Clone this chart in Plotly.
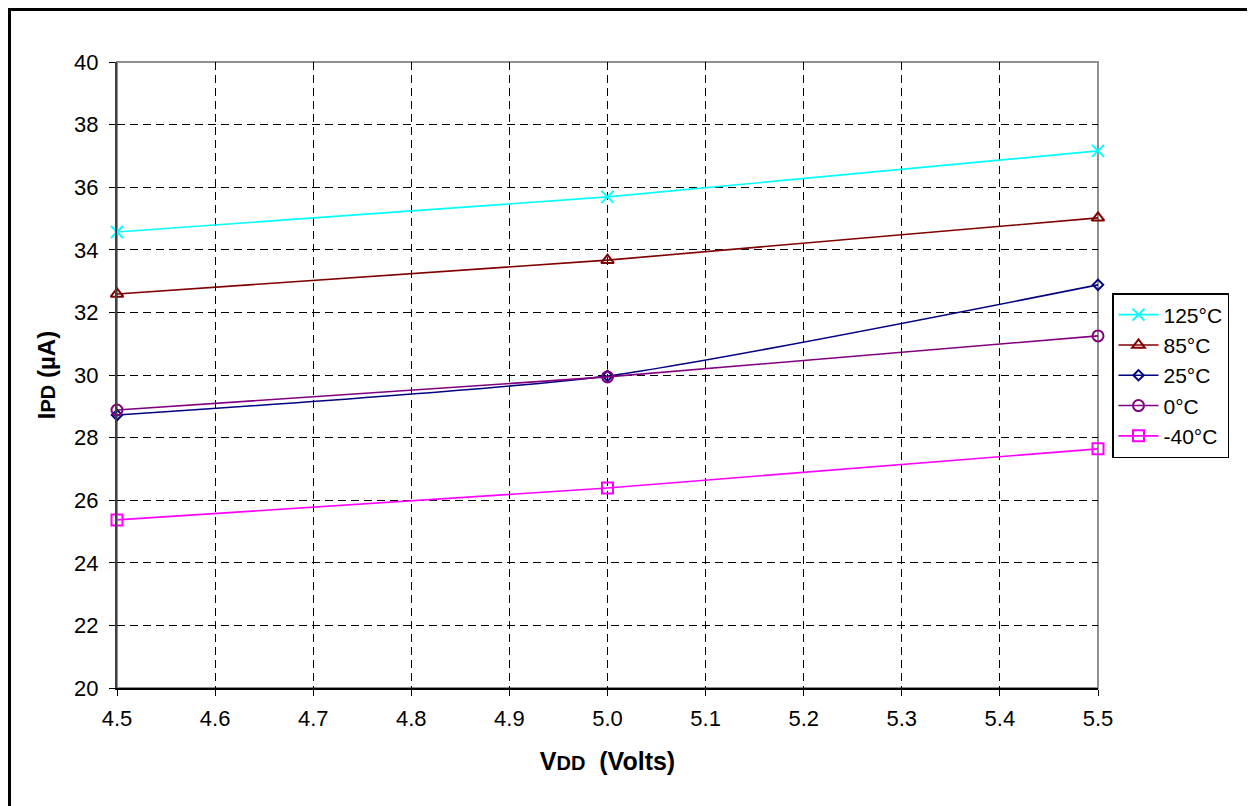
import plotly.graph_objects as go

vdd = [4.5, 5.0, 5.5]
series_names = ["125°C", "85°C", "25°C", "0°C", "-40°C"]
ipd_125 = [34.57, 35.69, 37.16]
ipd_85 = [32.59, 33.67, 35.02]
ipd_25 = [28.72, 29.97, 32.88]
ipd_0 = [28.88, 29.94, 31.25]
ipd_m40 = [25.37, 26.39, 27.64]
x_ticks = [4.5, 4.6, 4.7, 4.8, 4.9, 5.0, 5.1, 5.2, 5.3, 5.4, 5.5]
y_ticks = [20, 22, 24, 26, 28, 30, 32, 34, 36, 38, 40]

values = [ipd_125, ipd_85, ipd_25, ipd_0, ipd_m40]
colors = ["#00FFFF", "#800000", "#000080", "#800080", "#FF00FF"]
symbols = ["x-thin-open", "triangle-up-open", "diamond-open", "circle-open", "square-open"]
msizes = [12, 11, 8, 11, 11]

fig = go.Figure()
for name, vals, c, s, ms in zip(series_names, values, colors, symbols, msizes):
    fig.add_trace(go.Scatter(
        x=vdd, y=vals, name=name, mode="lines+markers", cliponaxis=False,
        line=dict(color=c, width=1.6, shape="spline", smoothing=0.6),
        marker=dict(symbol=s, size=ms, color=c, line=dict(color=c, width=2)),
    ))

# page offset of the figure (body margin)
OFF = 8
L, R, T, B = 117, 1098, 62, 688
W, H = 1255, 806
pw, ph = R - L, B - T
ml = L - OFF
mt = T - OFF

def px(xp):
    return (xp - L) / pw

def py(yp):
    return (B - yp) / ph

fig.update_layout(
    width=W, height=H,
    margin=dict(l=ml, r=W - ml - pw, t=mt, b=H - mt - ph, autoexpand=False),
    paper_bgcolor="white", plot_bgcolor="white",
    font=dict(family="Liberation Sans, Arial, sans-serif", size=22, color="black"),
    showlegend=True,
    legend=dict(
        x=px(1112), y=py(293), xanchor="left", yanchor="top",
        bordercolor="black", borderwidth=1.5, bgcolor="white",
        font=dict(size=21), tracegroupgap=0, itemwidth=40,
    ),
    xaxis=dict(
        range=[4.5, 5.5], tickvals=x_ticks, tickformat=".1f",
        showgrid=True, gridcolor="black", griddash="8px,5px", gridwidth=1,
        showline=True, linecolor="black", linewidth=1.5,
        ticks="outside", ticklen=6, tickcolor="black",
        ticklabelstandoff=4,
        zeroline=False,
        title=dict(text="<b>V<span style='font-size:20px'>DD</span>  (Volts)</b>",
                   font=dict(size=25), standoff=22),
    ),
    yaxis=dict(
        range=[20, 40], tickvals=y_ticks,
        showgrid=True, gridcolor="black", griddash="8px,5px", gridwidth=1,
        showline=True, linecolor="#404040", linewidth=2,
        ticks="outside", ticklen=6, tickcolor="black",
        ticklabelstandoff=6,
        zeroline=False,
        title=dict(text="<b>I<span style='font-size:20px'>PD</span> (µA)</b>",
                   font=dict(size=24), standoff=12),
    ),
    shapes=[
        dict(type="rect", xref="paper", yref="paper", x0=0, x1=1, y0=0, y1=1,
             line=dict(color="#909090", width=2), layer="below"),
        dict(type="rect", xref="paper", yref="paper",
             x0=px(OFF + 1.5), x1=px(1253), y0=py(812), y1=py(OFF + 1.5),
             line=dict(color="black", width=3)),
    ],
)

fig.write_html("out.html")
